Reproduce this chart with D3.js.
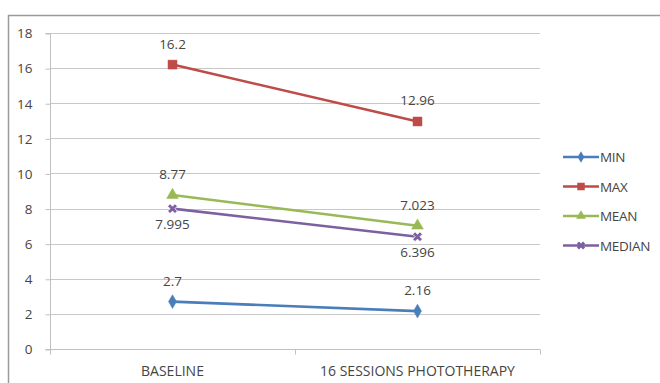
<!DOCTYPE html>
<html>
<head>
<meta charset="utf-8">
<script src="https://cdn.jsdelivr.net/npm/d3@7"></script>
<style>
  html, body { margin: 0; padding: 0; background: #fff; }
  svg { display: block; }
  text { font-family: "Open Sans", "Liberation Sans", sans-serif; fill: #454545; }
</style>
</head>
<body>
<svg id="chart" width="660" height="383"></svg>
<script>
// Phases of treatment along the x axis
const categories = ["BASELINE", "16 SESSIONS PHOTOTHERAPY"];

// Summary statistics per phase
const seriesNames = ["MIN", "MAX", "MEAN", "MEDIAN"];
const minValues = [2.7, 2.16];
const maxValues = [16.2, 12.96];
const meanValues = [8.77, 7.023];
const medianValues = [7.995, 6.396];

const yTicks = [0, 2, 4, 6, 8, 10, 12, 14, 16, 18];

const series = [
  { name: "MIN", values: minValues, color: "#4A7EBB", symbol: d3.symbolDiamond, size: 55, labelPos: ["above", "above"] },
  { name: "MAX", values: maxValues, color: "#BE4B48", symbol: d3.symbolSquare, size: 80, labelPos: ["above", "above"] },
  { name: "MEAN", values: meanValues, color: "#98B954", symbol: d3.symbolTriangle, size: 60, labelPos: ["above", "above"] },
  { name: "MEDIAN", values: medianValues, color: "#7D60A0", symbol: d3.symbolCross, size: 60, labelPos: ["below", "below"] }
];

const svg = d3.select("#chart");

// Chart frame (top and left edges visible)
svg.append("path")
  .attr("d", "M8.5,383 V15.5 H660")
  .attr("fill", "none")
  .attr("stroke", "#9a9a9a")
  .attr("stroke-width", 1.5);

const plot = { left: 50, right: 540, top: 33, bottom: 349 };

const x = d3.scaleBand().domain(categories).range([plot.left, plot.right]);
const y = d3.scaleLinear().domain([0, 18]).range([plot.bottom, plot.top]);

// Horizontal gridlines
svg.append("g")
  .selectAll("line")
  .data(yTicks.filter(t => t > 0))
  .join("line")
  .attr("x1", plot.left).attr("x2", plot.right)
  .attr("y1", d => Math.round(y(d)) + 0.5).attr("y2", d => Math.round(y(d)) + 0.5)
  .attr("stroke", "#c8c8c8").attr("stroke-width", 1.2);

// Y axis
const yAxis = svg.append("g")
  .attr("transform", `translate(${plot.left + 0.5},0.5)`)
  .call(d3.axisLeft(y).tickValues(yTicks).tickSize(5).tickPadding(13).tickFormat(d3.format("d")));
yAxis.select(".domain").attr("stroke", "#c0c0c0").attr("d", `M-5,${Math.round(y(18))}H0V${Math.round(y(0))}H-5`);
yAxis.selectAll(".tick line").attr("stroke", "#c0c0c0");
yAxis.selectAll(".tick text").attr("font-size", 13.5).attr("fill", "#454545");

// X axis with tick marks between categories
const xAxisG = svg.append("g").attr("transform", `translate(0,${Math.round(y(0)) + 0.5})`);
xAxisG.append("line")
  .attr("x1", plot.left).attr("x2", plot.right)
  .attr("stroke", "#c0c0c0");
const boundaries = [plot.left, x(categories[1]), plot.right];
xAxisG.selectAll("line.tk").data(boundaries).join("line")
  .attr("class", "tk")
  .attr("x1", d => Math.round(d) + 0.5).attr("x2", d => Math.round(d) + 0.5)
  .attr("y1", 0).attr("y2", 5)
  .attr("stroke", "#c0c0c0");
xAxisG.selectAll("text").data(categories).join("text")
  .attr("x", d => x(d) + x.bandwidth() / 2)
  .attr("y", 26)
  .attr("text-anchor", "middle")
  .attr("font-size", 14)
  .text(d => d);

const cx = d => x(d) + x.bandwidth() / 2;
const line = d3.line().x(d => cx(d.cat)).y(d => y(d.v));

// Series lines, markers and value labels
series.forEach(s => {
  const pts = s.values.map((v, i) => ({ cat: categories[i], v, pos: s.labelPos[i] }));
  const g = svg.append("g");
  g.append("path")
    .datum(pts)
    .attr("d", line)
    .attr("fill", "none")
    .attr("stroke", s.color)
    .attr("stroke-width", 2.6);
  g.selectAll("path.mk").data(pts).join("path")
    .attr("class", "mk")
    .attr("transform", d => `translate(${cx(d.cat)},${y(d.v)})` + (s.name === "MEDIAN" ? " rotate(45)" : ""))
    .attr("d", d3.symbol().type(s.symbol).size(s.size))
    .attr("fill", s.color)
    .attr("stroke", s.name === "MEDIAN" ? "#fff" : s.color)
    .attr("stroke-width", s.name === "MEDIAN" ? 0.8 : 0.5);
  g.selectAll("text").data(pts).join("text")
    .attr("x", d => cx(d.cat))
    .attr("y", d => d.pos === "above" ? y(d.v) - 16 : y(d.v) + 20)
    .attr("text-anchor", "middle")
    .attr("font-size", 13.5)
    .text(d => String(d.v));
});

// Legend
const legend = svg.append("g").attr("transform", "translate(563,157)");
series.forEach((s, i) => {
  const row = legend.append("g").attr("transform", `translate(0,${i * 29.5})`);
  row.append("line").attr("x1", 0).attr("x2", 36).attr("y1", 0).attr("y2", 0)
    .attr("stroke", s.color).attr("stroke-width", 2.4);
  row.append("path")
    .attr("transform", "translate(18,0)" + (s.name === "MEDIAN" ? " rotate(45)" : ""))
    .attr("d", d3.symbol().type(s.symbol).size(s.size * 0.7))
    .attr("fill", s.color);
  row.append("text").attr("x", 37).attr("y", 5)
    .attr("font-size", 13.5)
    .attr("letter-spacing", "-0.3")
    .text(s.name);
});
</script>
</body>
</html>
